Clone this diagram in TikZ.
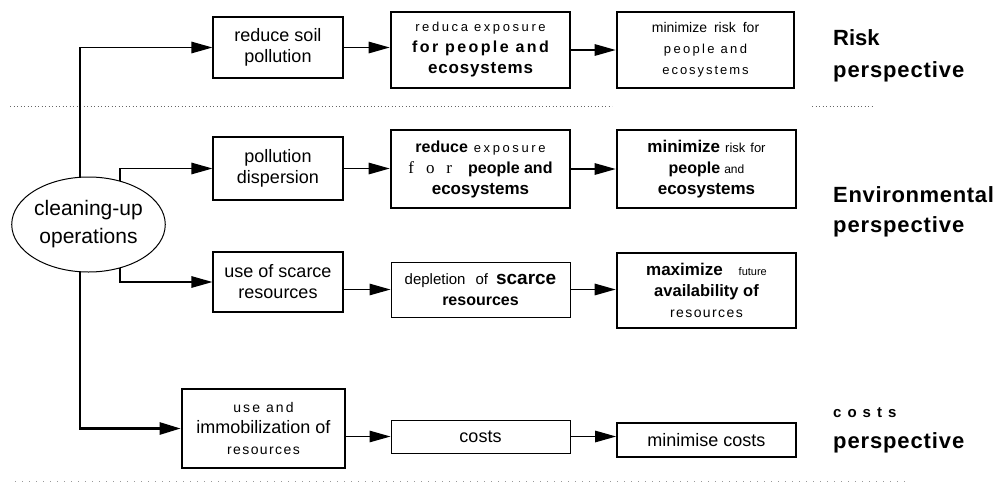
\documentclass[tikz,border=0pt]{standalone}
\usepackage{fontspec}
\setmainfont{Liberation Sans}
\newfontfamily\serifrm{Liberation Serif}
\usetikzlibrary{arrows.meta,shapes.geometric}
\newcommand\fz[1]{\fontsize{#1}{21}\selectfont}
\newcommand\ls[2]{{\addfontfeature{LetterSpace=#1}#2}}
\tikzset{
  box/.style={draw=black, line width=1.2pt, inner sep=0pt, align=center, font=\fz{18}},
  thickbox/.style={box, line width=2.6pt},
  conn/.style={draw=black, line width=1.3pt, -{Triangle[length=21pt,width=11.5pt]}},
  trunk/.style={draw=black, line width=1.2pt},
  lab/.style={anchor=base west, inner sep=0pt, font=\bfseries},
  sep/.style={draw=black!60, line width=0.9pt, dash pattern=on 0.9pt off 2.6pt},
}
\begin{document}
\begin{tikzpicture}[x=1pt,y=-1pt]
\useasboundingbox (0,0) rectangle (1001,485);
\fill[white] (0,0) rectangle (1001,485);

% separators
\draw[sep] (10,106) -- (612,106);
\draw[sep] (812,106) -- (872,106);
\draw[sep, draw=black!40, dash pattern=on 1pt off 6pt] (15,481) -- (905,481);

% source ellipse
\node[draw=black, line width=1pt, ellipse, minimum width=153pt, minimum height=95pt, inner sep=0pt, align=center, font=\fontsize{21}{28}\selectfont] (ops) at (88.5,224.5) {cleaning-up\\operations};

% row 1: risk
\node[box, minimum width=130pt, minimum height=61pt] (b1) at (278,47.5) {reduce soil\\pollution};
\node[thickbox, minimum width=179pt, minimum height=76pt] (b2) at (480.5,50)
  {{\fz{13}\ls{20}{reduca\hspace{6pt}exposure}}\\{\fz{16}\bfseries\ls{15}{for people and}}\\{\fz{17}\bfseries\ls{5}{ecosystems}}};
\node[thickbox, minimum width=177pt, minimum height=76pt] (b3) at (705.5,50)
  {{\fz{14}minimize\hspace{7pt}risk\hspace{7pt}for}\\{\fz{13}\ls{18}{people and}}\\{\fz{13}\ls{15}{ecosystems}}};

% row 2: environmental
\node[box, minimum width=130pt, minimum height=63pt] (b4) at (278,168.5) {pollution\\dispersion};
\node[thickbox, minimum width=179pt, minimum height=78pt] (b5) at (480.5,169)
  {{\fz{16}\bfseries reduce}\hspace{6pt}{\fz{13}\ls{20}{exposure}}\\{\fz{17}\serifrm\ls{70}{for}}\hspace{16pt}{\fz{16}\bfseries people and}\\{\fz{17}\bfseries ecosystems}};
\node[thickbox, minimum width=179pt, minimum height=78pt] (b6) at (706.5,169)
  {{\fz{17}\bfseries minimize}\hspace{5pt}{\fz{13}risk\hspace{5pt}for}\\{\fz{16}\bfseries people}\hspace{4pt}{\fz{12}and}\\{\fz{17}\bfseries ecosystems}};

% row 3
\node[box, minimum width=130pt, minimum height=60pt] (b7) at (278,282) {use of scarce\\resources};
\node[box, line width=1pt, minimum width=179pt, minimum height=55pt] (b8) at (480.5,289.5)
  {{\fz{15}depletion\hspace{10pt}of}\hspace{8pt}{\fz{19}\bfseries scarce}\\{\fz{16}\bfseries resources}};
\node[thickbox, minimum width=179pt, minimum height=75pt] (b9) at (706.5,290.5)
  {{\fz{17}\bfseries maximize}\hspace{16pt}{\fz{11}future}\\{\fz{16.5}\bfseries availability of}\\{\fz{14}\ls{10}{resources}}};

% row 4: costs
\node[thickbox, minimum width=163pt, minimum height=79pt] (b10) at (263.5,428.5)
  {{\fz{14}\ls{15}{use and}}\\{\fz{18}immobilization of}\\{\fz{14}\ls{10}{resources}}};
\node[box, line width=1pt, minimum width=179pt, minimum height=33pt] (b11) at (480.5,436.5) {costs};
\node[box, line width=1.8pt, minimum width=179pt, minimum height=34pt] (b12) at (706.5,440) {minimise costs};

% trunk coordinates on the ellipse
\coordinate (tt) at (80,177.5);
\coordinate (tb) at (80,271.7);
\coordinate (t2) at (120,181.4);
\coordinate (t3) at (120,267.6);
\coordinate (tk) at (80,350);

\draw[conn] (tt) |- (b1.west);
\draw[conn] (t2) |- (b4.west);
\draw[conn] (t3) |- (b7.west);
\draw[trunk] (tb) -- (tk);
\draw[conn, line width=2.6pt, -{Triangle[length=21pt,width=12pt]}] (tk) |- (b10.west);

% row arrows
\draw[conn] (b1.east) -- (b1.east -| b2.west);
\draw[conn] (b2.east) -- (b2.east -| b3.west);
\draw[conn] (b4.east) -- (b4.east -| b5.west);
\draw[conn] (b5.east) -- (b5.east -| b6.west);
\draw[conn] (b7.east |- b8.west) -- (b8.west);
\draw[conn] (b8.east) -- (b8.east -| b9.west);
\draw[conn] (b10.east |- b11.west) -- (b11.west);
\draw[conn] (b11.east) -- (b11.east -| b12.west);

% perspective labels
\node[lab, font=\fontsize{22}{22}\selectfont\bfseries] (r1) at (833,45) {Risk};
\node[lab, font=\fontsize{22}{22}\selectfont\bfseries] (r2) at (833,77) {\ls{4}{perspective}};
\node[lab, font=\fontsize{22}{22}\selectfont\bfseries] (e1) at (833,202) {\ls{3}{Environmental}};
\node[lab, font=\fontsize{22}{22}\selectfont\bfseries] (e2) at (833,232) {\ls{4}{perspective}};
\node[lab, font=\fontsize{15}{15}\selectfont\bfseries] (c1) at (833,417) {\ls{40}{costs}};
\node[lab, font=\fontsize{22}{22}\selectfont\bfseries] (c2) at (833,448) {\ls{4}{perspective}};
\end{tikzpicture}
\end{document}
